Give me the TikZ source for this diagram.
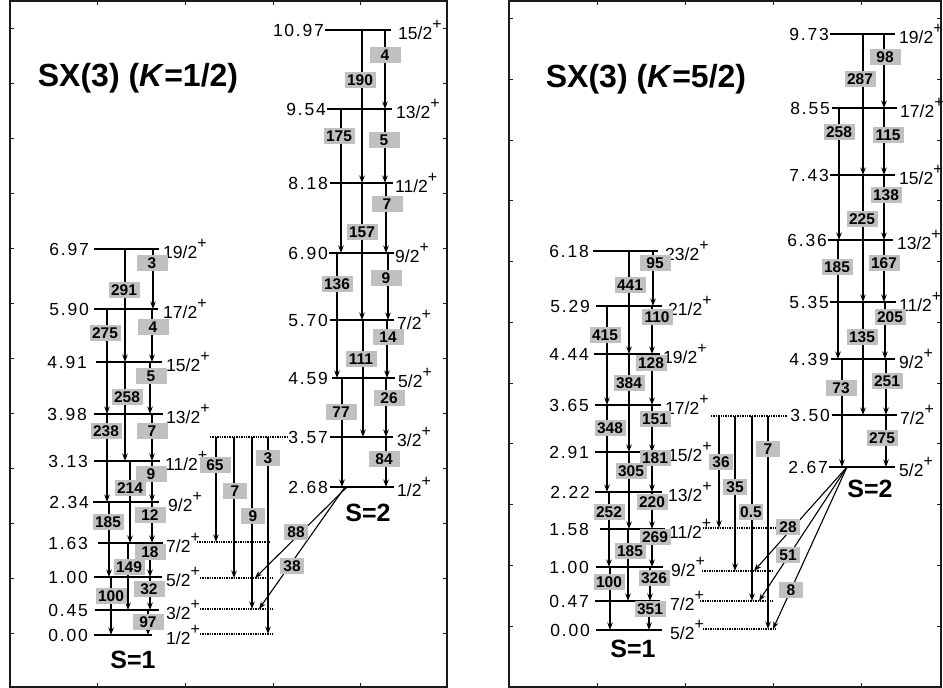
\documentclass[tikz,border=0pt]{standalone}
\usepackage{fontspec}
\setmainfont{Liberation Sans}
\newfontfamily\efont[LetterSpace=10]{Liberation Sans}
\usetikzlibrary{arrows.meta}
\definecolor{boxGray}{HTML}{C0C0C0}
\definecolor{frameCol}{HTML}{1A1A1A}
\newcommand\spinlab[1]{#1\raisebox{0.55em}{\fontsize{16}{16}\selectfont +}}
\tikzset{
  lvline/.style={line width=2.4pt, black},
  trans/.style={-{Stealth[length=7.5pt,width=5.5pt,inset=2.5pt]}, line width=1.1pt},
  dotline/.style={line width=1.4pt, densely dotted},
  elab/.style={font=\efont\fontsize{17.5}{17.5}\selectfont, anchor=east, inner sep=0pt},
  jlab/.style={font=\fontsize{17.5}{17.5}\selectfont, anchor=west, inner sep=0pt},
  gbox/.style={fill=boxGray, font=\bfseries\fontsize{15.5}{15.5}\selectfont,
    minimum width=31pt, minimum height=16.5pt, inner sep=0.5pt},
  nbox/.style={gbox, minimum width=24pt},
  titlelab/.style={font=\bfseries\fontsize{32}{36}\selectfont},
  bandlab/.style={font=\bfseries\fontsize{25}{28}\selectfont},
  panelframe/.style={line width=2pt, frameCol},
  tickmark/.style={line width=0.8pt, frameCol},
}

\begin{document}
\begin{tikzpicture}[x=1pt, y=-1pt]
  \useasboundingbox (0,0) rectangle (943,688);

  % panels
  \draw[panelframe] (10,1) rectangle (447,687);
  \draw[panelframe] (509,1) rectangle (941,687);
  \foreach \tx in {97,185,273,360} {
    \draw[tickmark] (\tx,1) -- (\tx,5);
    \draw[tickmark] (\tx,687) -- (\tx,683);
  }
  \foreach \ty in {28,83,138,193,248,303,358,413,468,523,578,633} {
    \draw[tickmark] (10,\ty) -- (14,\ty);
    \draw[tickmark] (447,\ty) -- (443,\ty);
  }
  \foreach \tx in {597,685,773,861} {
    \draw[tickmark] (\tx,1) -- (\tx,5);
    \draw[tickmark] (\tx,687) -- (\tx,683);
  }
  \foreach \ty in {18,79,140,200,261,322,383,443,504,565,626} {
    \draw[tickmark] (509,\ty) -- (513,\ty);
    \draw[tickmark] (941,\ty) -- (937,\ty);
  }

  \node[titlelab] (titleA) at (138,78) {SX(3) (\textit{K}=1/2)};
  \node[titlelab] (titleB) at (646,79) {SX(3) (\textit{K}=5/2)};

  % levels: band/spin/y/x0/x1/energy label/spin label/energy
  \foreach \p/\n/\y/\xa/\xb/\ex/\jx/\e in {
    a/19/249/94/159/89/163/6.97, a/17/309/94/158/89/163/5.90,
    a/15/362/96/162/87/166/4.91, a/13/414/94/163/87/166/3.98,
    a/11/461/94/160/88/165/3.13, a/9/502/93/159/89/168/2.34,
    a/7/543/98/163/88/166/1.63,  a/5/577/94/162/88/166/1.00,
    a/3/610/95/159/88/166/0.45,  a/1/635/94/152/88/166/0.00,
    b/15/30/325/391/324/398/10.97, b/13/109/327/392/326/396/9.54,
    b/11/183/330/393/328/395/8.18, b/9/253/329/394/328/395/6.90,
    b/7/320/330/394/328/397/5.70,  b/5/378/332/395/328/398/4.59,
    b/3/437/330/393/328/397/3.57,  b/1/487/330/394/328/397/2.68,
    c/23/251/593/658/589/665/6.18, c/21/306/596/662/590/668/5.29,
    c/19/354/594/660/589/663/4.44, c/17/405/595/661/589/665/3.65,
    c/15/452/595/662/589/668/2.91, c/13/492/595/662/590/668/2.22,
    c/11/529/600/665/589/669/1.58, c/9/567/596/663/589/671/1.00,
    c/7/601/595/660/589/670/0.47,  c/5/630/596/662/590/670/0.00,
    d/19/34/830/895/829/899/9.73,  d/17/108/832/897/830/900/8.55,
    d/15/175/830/895/829/899/7.43, d/13/240/828/893/827/897/6.36,
    d/11/302/830/896/829/899/5.35, d/9/359/831/895/829/899/4.39,
    d/7/415/832/897/830/900/3.50,  d/5/467/829/895/828/899/2.67} {
    \coordinate (\p\n) at (\xa,\y);
    \draw[lvline] (\p\n) -- (\xb,\y);
    \node[elab] (e\p\n) at (\ex,\y) {\e};
    \node[jlab] (j\p\n) at (\jx,\y) {\spinlab{\n/2}};
  }

  % dotted copies of the levels between the bands
  \coordinate (bt) at (210,437);
  \coordinate (ax7) at (197,542);
  \coordinate (ax5) at (200,578);
  \coordinate (ax3) at (200,609);
  \coordinate (ax1) at (200,634);
  \coordinate (dt) at (711,416);
  \coordinate (cx11) at (703,528);
  \coordinate (cx9) at (702,571);
  \coordinate (cx7) at (700,601);
  \coordinate (cx5) at (703,629);
  \draw[dotline] (bt) -- ++(77,0);
  \draw[dotline] (ax7) -- ++(74,0);
  \foreach \c in {ax5,ax3,ax1} \draw[dotline] (\c) -- ++(73,0);
  \draw[dotline] (dt) -- ++(76,0);
  \draw[dotline] (cx11) -- ++(87,0);
  \draw[dotline] (cx9) -- ++(71,0);
  \draw[dotline] (cx7) -- ++(73,0);
  \draw[dotline] (cx5) -- ++(73,0);

  % in-band transitions
  \foreach \x/\ti/\tf in {
    125/a19/a15, 153/a19/a17, 107/a17/a13, 152/a17/a15, 125/a15/a11,
    150/a15/a13, 107/a13/a9, 152/a13/a11, 130/a11/a7, 152/a11/a9,
    109/a9/a5, 152/a9/a7, 128/a7/a3, 150/a7/a5, 111/a5/a1, 150/a5/a3,
    148/a3/a1,
    362/b15/b11, 385/b15/b13, 341/b13/b9, 385/b13/b11, 362/b11/b7,
    386/b11/b9, 337/b9/b5, 388/b9/b7, 363/b7/b3, 387/b7/b5, 342/b5/b1,
    386/b5/b3, 386/b3/b1,
    629/c23/c19, 653/c23/c21, 607/c21/c17, 652/c21/c19, 629/c19/c15,
    652/c19/c17, 607/c17/c13, 652/c17/c15, 629/c15/c11, 652/c15/c13,
    609/c13/c9, 652/c13/c11, 628/c11/c7, 652/c11/c9, 610/c9/c5,
    650/c9/c7, 649/c7/c5,
    863/d19/d15, 884/d19/d17, 839/d17/d13, 884/d17/d15, 863/d15/d11,
    884/d15/d13, 838/d13/d9, 884/d13/d11, 863/d11/d7, 885/d11/d9,
    842/d9/d5, 886/d9/d7, 886/d7/d5} {
    \draw[trans] (\ti -| \x,0) -- (\tf -| \x,0);
  }

  % S=2 -> S=1 transitions
  \foreach \x/\ti/\tf in {216/bt/ax7, 234/bt/ax5, 252/bt/ax3, 268/bt/ax1,
    719/dt/cx11, 735/dt/cx9, 752/dt/cx7, 768/dt/cx5} {
    \draw[trans] (\ti -| \x,0) -- (\tf -| \x,0);
  }
  \draw[trans] (b1 -| 347,0) -- (ax5 -| 255,0);
  \draw[trans] (b1 -| 345,0) -- (ax3 -| 259,0);
  \draw[trans] (d5 -| 847,0) -- (cx9 -| 754,0);
  \draw[trans] (d5 -| 847,0) -- (cx7 -| 759,0);
  \draw[trans] (d5 -| 847,0) -- (cx5 -| 773,0);

  % intensities
  \foreach \x/\y/\t [count=\i] in {
    152/263/3, 124/290/291, 105/333/275, 153/327/4, 151/376/5,
    127/397/258, 106/431/238, 152/431/7, 151/474/9, 130/488/214,
    150/515/12, 108/522/185, 150/552/18, 129/567/149, 149/589/32,
    111/596/100, 148/622/97,
    385/55/4, 360/80/190, 339/136/175, 384/140/5, 387/204/7,
    362/232/157, 337/284/136, 386/278/9, 388/337/14, 361/359/111,
    389/398/26, 341/412/77, 384/459/84, 215/465/65,
    655/263/95, 630/285/441, 657/317/110, 605/335/415, 651/363/128,
    629/383/384, 655/419/151, 610/428/348, 655/458/181, 631/471/305,
    652/502/220, 609/512/252, 655/537/269, 630/551/185, 654/578/326,
    609/582/100, 650/609/351,
    885/57/98, 860/79/287, 839/132/258, 888/135/115, 886/195/138,
    862/219/225, 837/267/185, 884/263/167, 890/317/205, 862/337/135,
    887/381/251, 841/388/73, 882/438/275} {
    \node[gbox] (g\i) at (\x,\y) {\t};
  }
  \foreach \x/\y/\t [count=\i] in {
    235/491/7, 253/516/9, 268/458/3, 296/532/88, 292/566/38,
    721/462/36, 735/487/35, 751/512/0.5, 768/449/7, 788/527/28,
    788/555/51, 791/590/8} {
    \node[nbox] (n\i) at (\x,\y) {\t};
  }

  \node[bandlab] (bandA1) at (133,660) {S=1};
  \node[bandlab] (bandA2) at (368,513) {S=2};
  \node[bandlab] (bandB1) at (633,649) {S=1};
  \node[bandlab] (bandB2) at (870,489) {S=2};

\end{tikzpicture}
\end{document}
